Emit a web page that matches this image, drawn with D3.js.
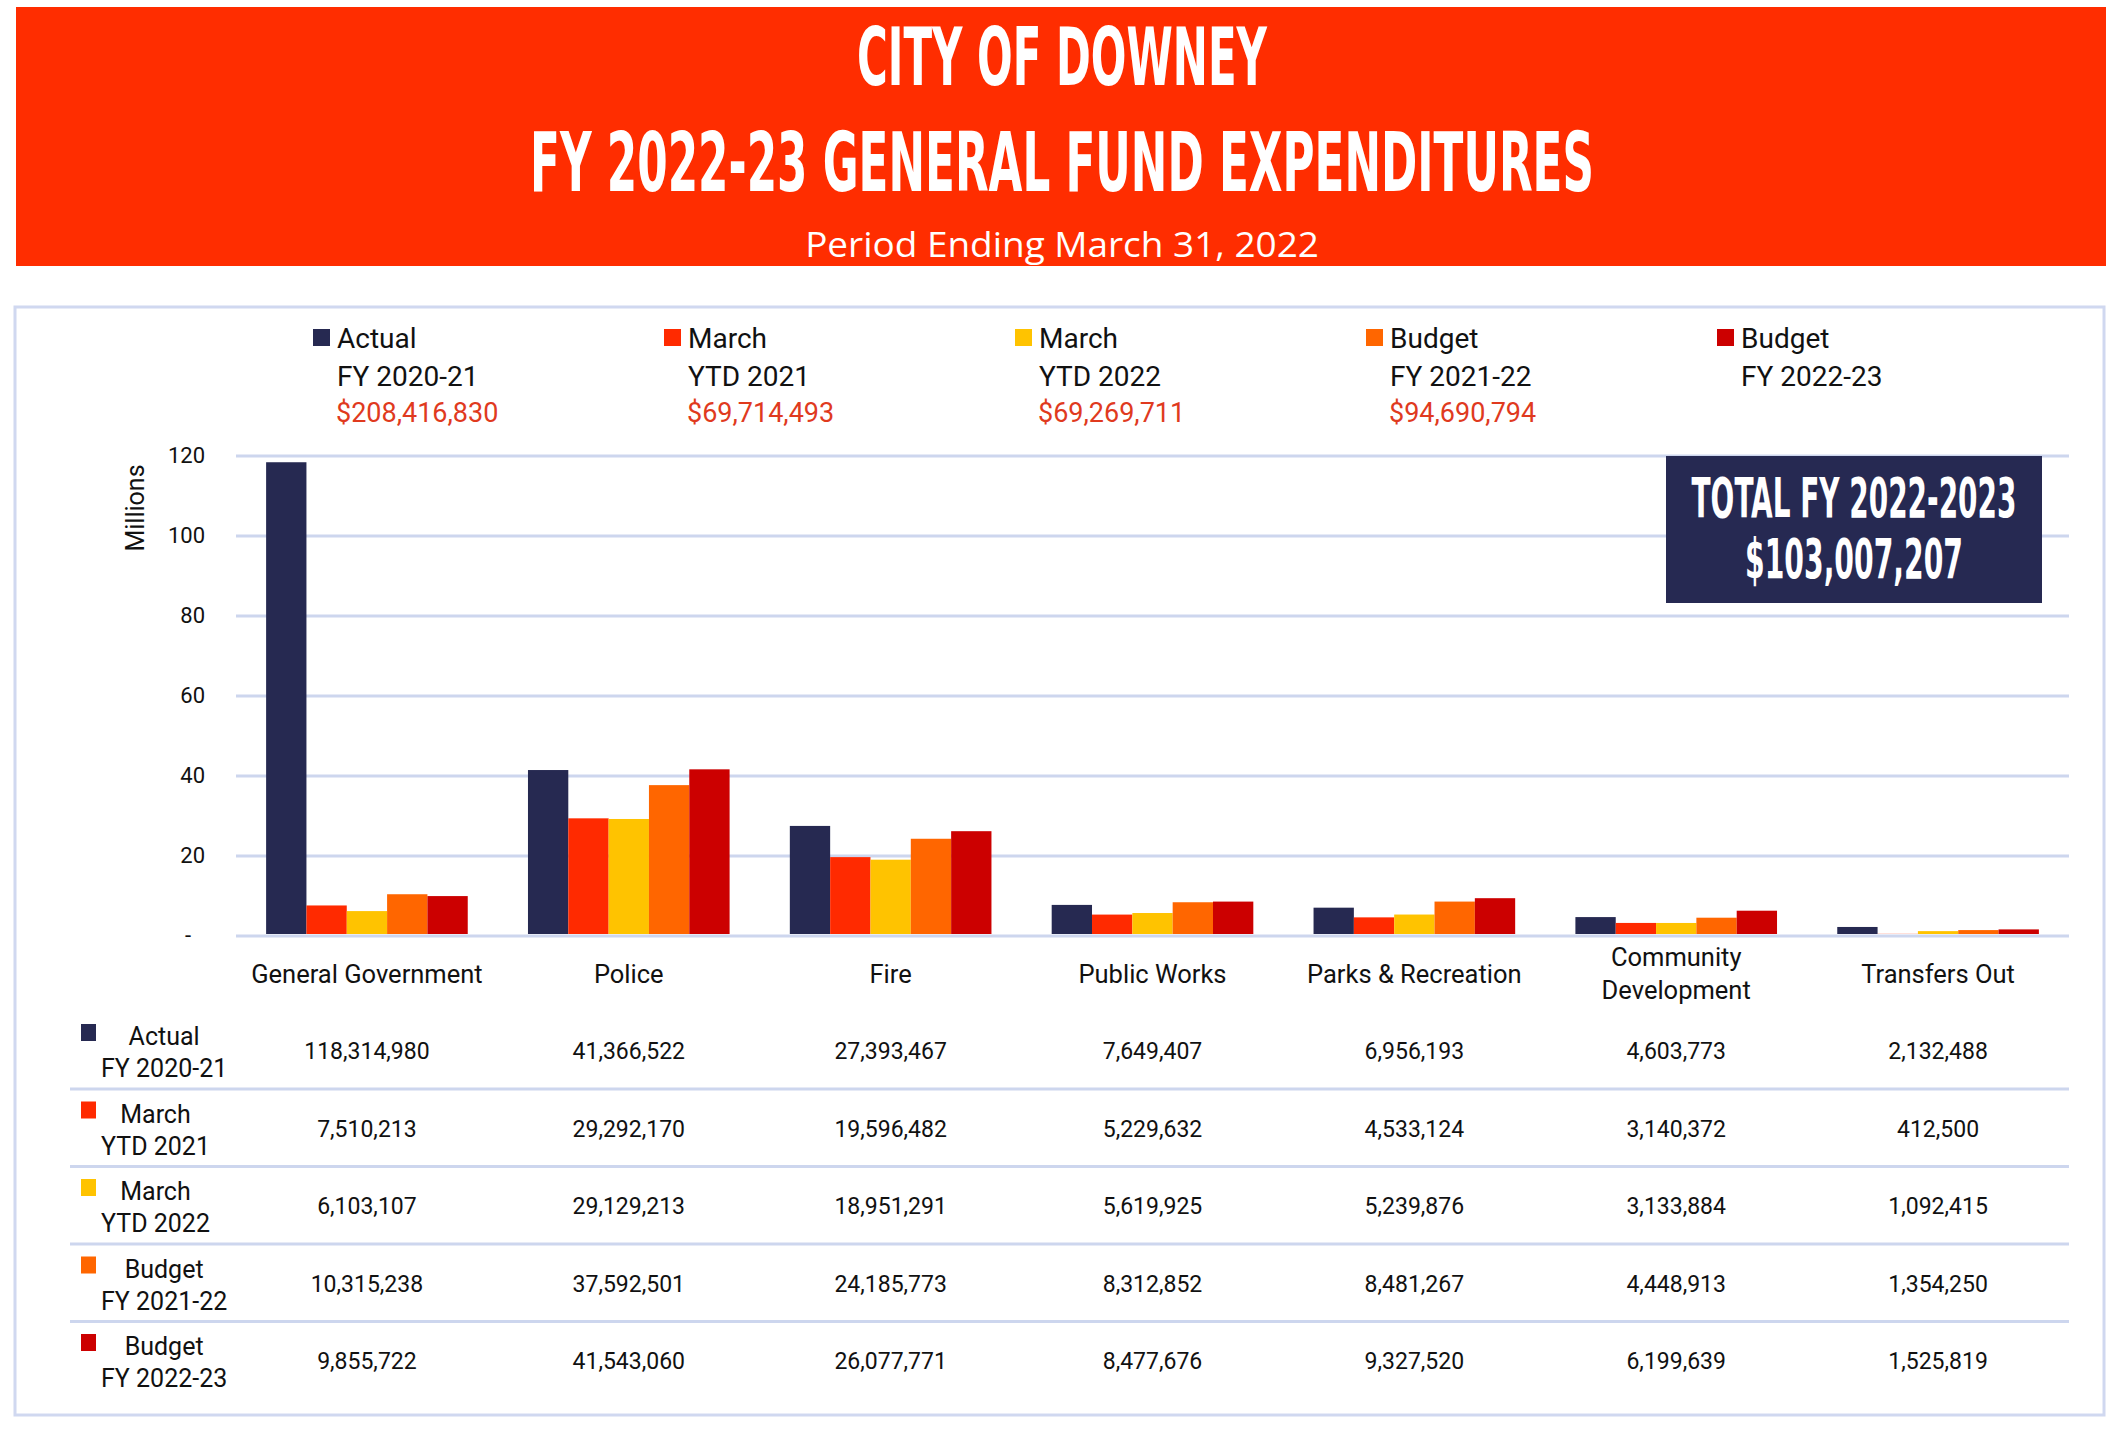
<!DOCTYPE html>
<html>
<head>
<meta charset="utf-8">
<script src="https://cdn.jsdelivr.net/npm/d3@7"></script>
<style>
	body { margin: 0; background: #fff; }
	text { font-family: Roboto, "Liberation Sans", sans-serif; }
</style>
</head>
<body>
<div id="chart"></div>
<script>
const categories = ["General Government", "Police", "Fire", "Public Works", "Parks & Recreation", "Community Development", "Transfers Out"];
const seriesLabels = [["Actual", "FY 2020-21"], ["March", "YTD 2021"], ["March", "YTD 2022"], ["Budget", "FY 2021-22"], ["Budget", "FY 2022-23"]];
const seriesTotals = ["$208,416,830", "$69,714,493", "$69,269,711", "$94,690,794", ""];
const seriesColors = ["#262951", "#ff2a00", "#ffc300", "#ff6600", "#cc0000"];

const actual2021 = [118314980, 41366522, 27393467, 7649407, 6956193, 4603773, 2132488];
const marchYtd2021 = [7510213, 29292170, 19596482, 5229632, 4533124, 3140372, 412500];
const marchYtd2022 = [6103107, 29129213, 18951291, 5619925, 5239876, 3133884, 1092415];
const budget2122 = [10315238, 37592501, 24185773, 8312852, 8481267, 4448913, 1354250];
const budget2223 = [9855722, 41543060, 26077771, 8477676, 9327520, 6199639, 1525819];
const series = [actual2021, marchYtd2021, marchYtd2022, budget2122, budget2223];

const yTicks = [0, 20, 40, 60, 80, 100, 120];
const titleLines = ["CITY OF DOWNEY", "FY 2022-23 GENERAL FUND EXPENDITURES"];
const subtitle = "Period Ending March 31, 2022";
const totalLines = ["TOTAL FY 2022-2023", "$103,007,207"];

const width = 2114, height = 1439;
let svg = d3.select("#chart").append("svg").attr("width", width).attr("height", height);

/* Draw centred text squeezed horizontally to a target width (poster type is very condensed). */
function squeezedText(cx, cy, str, size, targetWidth, family, weight) {
	let t = svg.append("text").attr("text-anchor", "middle")
		.style("font-family", family).style("font-weight", weight)
		.attr("font-size", size).attr("fill", "#fff").text(str);
	let w = t.node().getComputedTextLength();
	t.attr("transform", `translate(${cx},${cy}) scale(${targetWidth / w},1)`);
	return t;
}

// header banner
svg.append("rect").attr("x", 16).attr("y", 7).attr("width", 2090).attr("height", 259).attr("fill", "#ff2d00");
let condensed = "'Liberation Sans Narrow', 'DejaVu Sans Condensed', sans-serif";
squeezedText(1062, 85, titleLines[0], 80, 410, condensed, "bold");
squeezedText(1062, 191, titleLines[1], 82, 1064, condensed, "bold");
squeezedText(1062, 257, subtitle, 35, 514, "'Open Sans'", "normal");

// panel border
svg.append("rect").attr("x", 15).attr("y", 307).attr("width", 2089).attr("height", 1108)
	.attr("fill", "none").attr("stroke", "#d0d8f0").attr("stroke-width", 3);

// scales
let x0 = d3.scaleBand().domain(categories).range([236, 2069]).paddingInner(0.23).paddingOuter(0.115);
let x1 = d3.scaleBand().domain(d3.range(series.length)).range([0, x0.bandwidth()]);
let y = d3.scaleLinear().domain([0, 120]).range([935.5, 455.5]);

// gridlines + y labels
let yAxis = svg.append("g").attr("transform", "translate(236,0)")
	.call(d3.axisLeft(y).tickValues(yTicks).tickSize(-(2069 - 236)).tickFormat(d => d === 0 ? "-" : d).tickPadding(31));
yAxis.select(".domain").remove();
yAxis.selectAll(".tick line").attr("stroke", "#cdd6ee").attr("stroke-width", 3);
yAxis.selectAll(".tick text").attr("font-size", 22).attr("fill", "#111")
	.style("font-family", "Roboto").attr("dx", d => d === 0 ? -14 : 0);

svg.append("text").attr("transform", "translate(144,508) rotate(-90)").attr("text-anchor", "middle")
	.attr("font-size", 25).attr("fill", "#111").text("Millions");

// bars
categories.forEach((cat, ci) => {
	series.forEach((s, si) => {
		let v = s[ci] / 1e6;
		svg.append("rect")
			.attr("x", x0(cat) + x1(si))
			.attr("y", y(v))
			.attr("width", x1.bandwidth())
			.attr("height", y(0) - y(v) - 1.5)
			.attr("fill", seriesColors[si]);
	});
});

// category labels
categories.forEach(cat => {
	let cx = x0(cat) + x0.bandwidth() / 2;
	let lines = cat.length > 20 ? cat.split(" ") : [cat];
	lines.forEach((ln, li) => {
		svg.append("text").attr("x", cx).attr("y", lines.length > 1 ? 966 + li * 33 : 983)
			.attr("text-anchor", "middle").attr("font-size", 25.5).attr("fill", "#111").text(ln);
	});
});

// top legend
seriesLabels.forEach((lab, i) => {
	let lx = 313 + i * 351;
	svg.append("rect").attr("x", lx).attr("y", 329).attr("width", 17).attr("height", 17).attr("fill", seriesColors[i]);
	svg.append("text").attr("x", lx + 24).attr("y", 348).attr("font-size", 28).attr("fill", "#111").text(lab[0]);
	svg.append("text").attr("x", lx + 24).attr("y", 386).attr("font-size", 28).attr("fill", "#111").text(lab[1]);
	svg.append("text").attr("x", lx + 23).attr("y", 422).attr("font-size", 27).attr("fill", "#e03a1e").text(seriesTotals[i]);
});

// total box
svg.append("rect").attr("x", 1666).attr("y", 456).attr("width", 376).attr("height", 147).attr("fill", "#262952");
squeezedText(1854, 517, totalLines[0], 55, 325, condensed, "bold");
squeezedText(1854, 578, totalLines[1], 55, 218, condensed, "bold");

// data table
let fmt = d3.format(",");
let rowPitch = 77.5, row0 = 1050;
series.forEach((s, si) => {
	let cy = row0 + si * rowPitch;
	svg.append("rect").attr("x", 81).attr("y", cy - 26).attr("width", 15).attr("height", 17).attr("fill", seriesColors[si]);
	let l2 = svg.append("text").attr("x", 101).attr("y", cy + 27).attr("font-size", 25).attr("fill", "#111").text(seriesLabels[si][1]);
	let mid = 101 + l2.node().getComputedTextLength() / 2;
	svg.append("text").attr("x", mid).attr("y", cy - 5).attr("text-anchor", "middle").attr("font-size", 25).attr("fill", "#111").text(seriesLabels[si][0]);
	categories.forEach((cat, ci) => {
		svg.append("text").attr("x", x0(cat) + x0.bandwidth() / 2).attr("y", cy + 9)
			.attr("text-anchor", "middle").attr("font-size", 23).attr("fill", "#111").text(fmt(s[ci]));
	});
	if (si < series.length - 1) {
		svg.append("line").attr("x1", 70).attr("x2", 2069).attr("y1", cy + 39).attr("y2", cy + 39)
			.attr("stroke", "#cdd6ee").attr("stroke-width", 3);
	}
});
</script>
</body>
</html>
